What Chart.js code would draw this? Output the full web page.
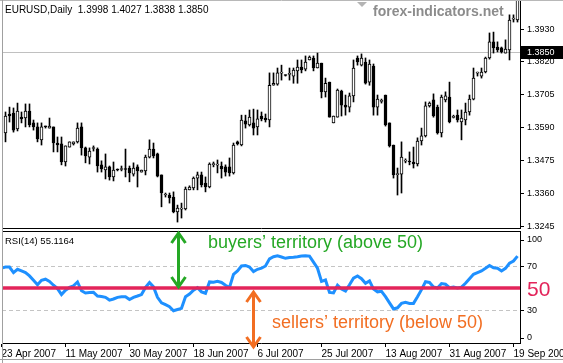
<!DOCTYPE html>
<html>
<head>
<meta charset="utf-8">
<script src="https://cdn.jsdelivr.net/npm/chart.js@4.4.1/dist/chart.umd.min.js"></script>
<style>
  html, body { margin: 0; padding: 0; background: #fff; }
  #wrap { position: relative; width: 563px; height: 363px; overflow: hidden; background: #fff; }
  canvas { position: absolute; left: 0; }
  #priceChart { top: 0; }
  #rsiChart { top: 229px; }
</style>
</head>
<body>
<div id="wrap">
  <canvas id="priceChart" width="563" height="229"></canvas>
  <canvas id="rsiChart" width="563" height="134"></canvas>
</div>
<script>
// EURUSD daily bars (index 0 = 23 Apr 2007, Sunday bars included)
const open = [null,
  1.3570, 1.3636, 1.3639, 1.3584, 1.3625, 1.3622, 1.3646, 1.3605, 1.3591, 1.3546,
  1.3593, 1.3587, 1.3591, 1.3535, 1.3532, 1.3469, 1.3521, 1.3532, 1.3539, 1.3591,
  1.3518, 1.3486, 1.3516, 1.3514, 1.3459, 1.3441, 1.3452, 1.3417, 1.3442, 1.3443,
  1.3446, 1.3448, 1.3427, 1.3452, 1.3434, 1.3438, 1.3486, 1.3514, 1.3497, 1.3424,
  1.3354, 1.3354, 1.3347, 1.3295, 1.3305, 1.3306, 1.3372, 1.3379, 1.3413, 1.3424,
  1.3396, 1.3382, 1.3460, 1.3458, 1.3455, 1.3452, 1.3452, 1.3431, 1.3539, 1.3528,
  1.3612, 1.3598, 1.3605, 1.3591, 1.3629, 1.3622, 1.3615, 1.3736, 1.3740, 1.3778,
  1.3771, 1.3774, 1.3768, 1.3786, 1.3799, 1.3792, 1.3824, 1.3831, 1.3796, 1.3813,
  1.3713, 1.3747, 1.3605, 1.3625, 1.3716, 1.3667, 1.3660, 1.3699, 1.3831, 1.3806,
  1.3817, 1.3747, 1.3803, 1.3660, 1.3680, 1.3702, 1.3605, 1.3528, 1.3425, 1.3427,
  1.3472, 1.3470, 1.3469, 1.3462, 1.3542, 1.3560, 1.3664, 1.3685, 1.3660, 1.3570,
  1.3685, 1.3695, 1.3624, 1.3632, 1.3608, 1.3615, 1.3643, 1.3688, 1.3778, 1.3768,
  1.3782, 1.3831, 1.3887, 1.3869, 1.3866, 1.3848, 1.3859, 1.3966, 1.3963];
const high = [null,
  1.3643, 1.3660, 1.3657, 1.3674, 1.3643, 1.3671, 1.3671, 1.3615, 1.3605, 1.3605,
  1.3594, 1.3622, 1.3591, 1.3556, 1.3556, 1.3525, 1.3539, 1.3539, 1.3605, 1.3605,
  1.3521, 1.3518, 1.3525, 1.3518, 1.3473, 1.3497, 1.3455, 1.3469, 1.3445, 1.3455,
  1.3514, 1.3455, 1.3466, 1.3459, 1.3441, 1.3493, 1.3546, 1.3535, 1.3500, 1.3424,
  1.3361, 1.3361, 1.3365, 1.3319, 1.3326, 1.3382, 1.3386, 1.3417, 1.3434, 1.3434,
  1.3417, 1.3466, 1.3469, 1.3476, 1.3469, 1.3459, 1.3483, 1.3535, 1.3542, 1.3632,
  1.3632, 1.3650, 1.3653, 1.3650, 1.3643, 1.3636, 1.3779, 1.3779, 1.3796, 1.3806,
  1.3772, 1.3796, 1.3796, 1.3824, 1.3824, 1.3838, 1.3838, 1.3838, 1.3848, 1.3813,
  1.3761, 1.3747, 1.3629, 1.3723, 1.3719, 1.3702, 1.3709, 1.3824, 1.3838, 1.3845,
  1.3831, 1.3824, 1.3810, 1.3702, 1.3688, 1.3702, 1.3605, 1.3528, 1.3448, 1.3539,
  1.3480, 1.3504, 1.3521, 1.3553, 1.3587, 1.3678, 1.3678, 1.3706, 1.3667, 1.3702,
  1.3713, 1.3747, 1.3632, 1.3650, 1.3650, 1.3674, 1.3702, 1.3796, 1.3782, 1.3796,
  1.3834, 1.3918, 1.3921, 1.3887, 1.3869, 1.3894, 1.3981, 1.3981, 1.4045];
const low = [null,
  1.3539, 1.3608, 1.3573, 1.3577, 1.3605, 1.3591, 1.3591, 1.3580, 1.3539, 1.3528,
  1.3587, 1.3587, 1.3504, 1.3504, 1.3459, 1.3455, 1.3521, 1.3528, 1.3535, 1.3493,
  1.3466, 1.3462, 1.3507, 1.3434, 1.3434, 1.3410, 1.3406, 1.3403, 1.3438, 1.3438,
  1.3417, 1.3400, 1.3420, 1.3382, 1.3434, 1.3424, 1.3483, 1.3483, 1.3417, 1.3313,
  1.3347, 1.3326, 1.3292, 1.3260, 1.3274, 1.3302, 1.3372, 1.3372, 1.3372, 1.3382,
  1.3365, 1.3379, 1.3452, 1.3431, 1.3413, 1.3420, 1.3420, 1.3427, 1.3528, 1.3525,
  1.3587, 1.3594, 1.3563, 1.3563, 1.3612, 1.3608, 1.3591, 1.3736, 1.3736, 1.3754,
  1.3768, 1.3754, 1.3743, 1.3743, 1.3779, 1.3786, 1.3824, 1.3786, 1.3796, 1.3692,
  1.3695, 1.3625, 1.3605, 1.3625, 1.3629, 1.3632, 1.3643, 1.3678, 1.3806, 1.3803,
  1.3740, 1.3736, 1.3632, 1.3632, 1.3674, 1.3594, 1.3521, 1.3413, 1.3354, 1.3361,
  1.3466, 1.3459, 1.3448, 1.3455, 1.3528, 1.3556, 1.3660, 1.3625, 1.3566, 1.3556,
  1.3678, 1.3605, 1.3622, 1.3608, 1.3546, 1.3598, 1.3632, 1.3685, 1.3768, 1.3761,
  1.3779, 1.3827, 1.3848, 1.3852, 1.3848, 1.3848, 1.3824, 1.3956, 1.3956];
const close = [null,
  1.3629, 1.3629, 1.3580, 1.3646, 1.3619, 1.3646, 1.3598, 1.3591, 1.3549, 1.3591,
  1.3591, 1.3594, 1.3535, 1.3528, 1.3469, 1.3525, 1.3539, 1.3539, 1.3587, 1.3518,
  1.3490, 1.3507, 1.3518, 1.3455, 1.3445, 1.3452, 1.3417, 1.3441, 1.3441, 1.3446,
  1.3443, 1.3431, 1.3448, 1.3438, 1.3441, 1.3486, 1.3514, 1.3490, 1.3420, 1.3361,
  1.3356, 1.3344, 1.3295, 1.3309, 1.3307, 1.3375, 1.3382, 1.3413, 1.3424, 1.3389,
  1.3382, 1.3462, 1.3462, 1.3460, 1.3445, 1.3434, 1.3431, 1.3528, 1.3532, 1.3615,
  1.3601, 1.3625, 1.3587, 1.3619, 1.3619, 1.3615, 1.3736, 1.3743, 1.3779, 1.3779,
  1.3770, 1.3776, 1.3789, 1.3799, 1.3789, 1.3817, 1.3834, 1.3796, 1.3813, 1.3713,
  1.3743, 1.3625, 1.3629, 1.3719, 1.3667, 1.3660, 1.3699, 1.3796, 1.3817, 1.3831,
  1.3743, 1.3810, 1.3660, 1.3688, 1.3681, 1.3598, 1.3525, 1.3424, 1.3427, 1.3486,
  1.3473, 1.3469, 1.3462, 1.3542, 1.3560, 1.3664, 1.3674, 1.3629, 1.3570, 1.3695,
  1.3699, 1.3608, 1.3625, 1.3615, 1.3622, 1.3643, 1.3688, 1.3761, 1.3779, 1.3782,
  1.3831, 1.3887, 1.3866, 1.3859, 1.3852, 1.3862, 1.3963, 1.3967, 1.4035];

// RSI(14), one value per bar
const rsi = [
  68, 69, 69, 64, 67, 65.5, 64, 61, 57, 53,
  57, 58, 56, 52.5, 49.5, 44, 48, 50.5, 52, 55.5,
  47.5, 45.5, 45.8, 46, 42.7, 42.2, 41.5, 39, 40, 41.5,
  42.1, 42.1, 39.5, 41.5, 42.7, 44, 50.5, 55, 51, 41.5,
  36.5, 34.8, 33, 29.3, 30.5, 31.5, 42, 44.5, 48, 50.3,
  46.5, 45.2, 55.5, 55.2, 56, 55, 52.5, 50.5, 62.5, 65.5,
  70, 70.5, 69, 65, 67, 68, 70, 76.5, 78.4, 79.2,
  78.2, 77, 77.7, 77.9, 78.4, 79.1, 79.4, 79, 73.5, 68,
  56, 57.3, 46, 45.5, 52.5, 49, 47.3, 53, 59, 61,
  58.5, 54.3, 56.5, 49, 46.5, 47, 42.1, 36.5, 31, 32,
  36, 37, 36, 36, 42, 48.5, 55.7, 55, 51, 50,
  54, 53.4, 50.3, 50.8, 50, 50.8, 54.3, 58.5, 62.5, 64,
  65.5, 67.9, 70.5, 68.4, 67.9, 65.5, 67.9, 72.5, 74.5, 79];

const dateTicks = ["23 Apr 2007", "11 May 2007", "30 May 2007", "18 Jun 2007", "6 Jul 2007",
  "25 Jul 2007", "13 Aug 2007", "31 Aug 2007", "19 Sep 2007"];
const tickStep = 16;
const priceTicks = [1.3245, 1.3360, 1.3475, 1.3590, 1.3705, 1.3820, 1.3930];
const rsiTicks = [100, 70, 30, 0];
const rsiLevels = [70, 30];
const rsiMid = 50;
const lastBar = [1.3998, 1.4027, 1.3838, 1.3850];
const rsiPeriod = 14;
const rsiLast = 55.1164;

Chart.defaults.font.family = "'Liberation Sans', Arial, sans-serif";
Chart.defaults.animation = false;

const FONT = "'Liberation Sans', Arial, sans-serif";
const xMin = 0.125, xMax = 129.625;
const priceMin = 1.32393, priceMax = 1.40292;
const rsiMax = 101.82;
const RSI_TOP = 229; // page offset of the rsi canvas
const RED = "#e3245a";

const bars = open.map((o, i) => i).filter(i => open[i] !== null);
const wickData = bars.map(i => ({ x: i, y: [low[i], high[i]] }));
const bodyData = bars.map(i => ({ x: i, y: [open[i], close[i]] }));
const bodyFill = bars.map(i => (close[i] >= open[i] ? "#ffffff" : "#000000"));

const priceDecor = {
  id: "priceDecor",
  beforeDatasetsDraw(chart) {
    const { ctx, chartArea: a, scales } = chart;
    const yb = Math.round(scales.y.getPixelForValue(lastBar[3])) + 0.5;
    ctx.save();
    ctx.strokeStyle = "#c0c0c0";
    ctx.lineWidth = 1;
    ctx.beginPath();
    ctx.moveTo(a.left, yb);
    ctx.lineTo(a.right, yb);
    ctx.stroke();
    ctx.restore();
  },
  afterDraw(chart) {
    const { ctx, chartArea: a, scales } = chart;
    ctx.save();
    // header
    ctx.fillStyle = "#000";
    ctx.font = "10px " + FONT;
    ctx.textBaseline = "alphabetic";
    ctx.fillText("EURUSD,Daily  " + lastBar.map(v => v.toFixed(4)).join(" "), 5, 13);
    // watermark
    ctx.fillStyle = "#8c8c8c";
    ctx.font = "bold 14px " + FONT;
    ctx.fillText("forex-indicators.net", 373, 16);
    // shift marker
    ctx.fillStyle = "#b4b4b4";
    ctx.beginPath();
    ctx.moveTo(357, 2);
    ctx.lineTo(367, 2);
    ctx.lineTo(362, 7);
    ctx.closePath();
    ctx.fill();
    // bid price box
    const yb = Math.round(scales.y.getPixelForValue(lastBar[3]));
    ctx.fillStyle = "#000";
    ctx.fillRect(521, yb - 6, 42, 13);
    ctx.fillStyle = "#fff";
    ctx.font = "9px " + FONT;
    ctx.textBaseline = "middle";
    ctx.fillText(lastBar[3].toFixed(4), 527, yb + 1);
    // frame
    ctx.lineWidth = 1;
    ctx.strokeStyle = "#000";
    ctx.beginPath();
    ctx.moveTo(a.left, 228.5);
    ctx.lineTo(a.right + 1, 228.5);
    ctx.stroke();
    ctx.strokeStyle = "#b8b8b8";
    ctx.beginPath();
    ctx.moveTo(0, 0.5);
    ctx.lineTo(563, 0.5);
    ctx.stroke();
    ctx.strokeStyle = "#a0a0a0";
    ctx.beginPath();
    ctx.moveTo(2.5, 0);
    ctx.lineTo(2.5, 229);
    ctx.stroke();
    ctx.restore();
  }
};

new Chart(document.getElementById("priceChart"), {
  type: "bar",
  data: {
    datasets: [
      { data: wickData, backgroundColor: "#000", barThickness: 1, grouped: false, order: 2 },
      {
        data: bodyData, backgroundColor: bodyFill, borderColor: "#000", borderWidth: 1,
        borderSkipped: false, barThickness: 3, minBarLength: 1, grouped: false, order: 1
      }
    ]
  },
  options: {
    responsive: false,
    events: [],
    layout: { padding: { top: 1, left: 2, right: 0, bottom: 1 }, autoPadding: false },
    plugins: { legend: { display: false }, tooltip: { enabled: false } },
    scales: {
      x: { type: "linear", display: false, min: xMin, max: xMax, offset: false },
      y: {
        position: "right",
        min: priceMin,
        max: priceMax,
        afterBuildTicks: (s) => { s.ticks = priceTicks.map(v => ({ value: v })); },
        afterFit: (s) => { s.width = 43; s.paddingTop = 0; s.paddingBottom = 0; },
        ticks: { color: "#000", font: { size: 9 }, padding: 3, callback: (v) => v.toFixed(4) },
        grid: { drawOnChartArea: false, tickLength: 4, color: "#000" },
        border: { color: "#000" }
      }
    }
  },
  plugins: [priceDecor]
});

function drawArrow(ctx, x, y1, y2, color) {
  ctx.strokeStyle = color;
  ctx.lineWidth = 3;
  ctx.lineCap = "butt";
  ctx.beginPath();
  ctx.moveTo(x, y1 + 1);
  ctx.lineTo(x, y2 - 1);
  ctx.moveTo(x - 7, y1 + 11);
  ctx.lineTo(x, y1 + 1);
  ctx.lineTo(x + 7, y1 + 11);
  ctx.moveTo(x - 7, y2 - 11);
  ctx.lineTo(x, y2 - 1);
  ctx.lineTo(x + 7, y2 - 11);
  ctx.stroke();
}

const rsiDecor = {
  id: "rsiDecor",
  beforeDatasetsDraw(chart) {
    const { ctx, chartArea: a, scales } = chart;
    ctx.save();
    ctx.strokeStyle = "#c4c4c4";
    ctx.lineWidth = 1;
    ctx.setLineDash([4, 3]);
    rsiLevels.forEach(v => {
      const y = Math.round(scales.y.getPixelForValue(v)) + 0.5;
      ctx.beginPath();
      ctx.moveTo(a.left, y);
      ctx.lineTo(a.right, y);
      ctx.stroke();
    });
    ctx.restore();
  },
  afterDatasetsDraw(chart) {
    const { ctx, chartArea: a, scales } = chart;
    const y = scales.y.getPixelForValue(rsiMid);
    ctx.save();
    ctx.strokeStyle = RED;
    ctx.lineWidth = 3.5;
    ctx.beginPath();
    ctx.moveTo(a.left, y);
    ctx.lineTo(a.right, y);
    ctx.stroke();
    ctx.restore();
  },
  afterDraw(chart) {
    const { ctx, chartArea: a, scales } = chart;
    ctx.save();
    // axis labels, kept inside the panel like the terminal does
    ctx.font = "9px " + FONT;
    ctx.fillStyle = "#000";
    ctx.strokeStyle = "#000";
    ctx.lineWidth = 1;
    ctx.textBaseline = "middle";
    rsiTicks.forEach(v => {
      let y = scales.y.getPixelForValue(v);
      y = Math.min(Math.max(y, a.top + 8.5), a.bottom - 5.5);
      ctx.beginPath();
      ctx.moveTo(a.right, Math.round(y) + 0.5);
      ctx.lineTo(a.right + 4, Math.round(y) + 0.5);
      ctx.stroke();
      ctx.fillText(String(v), 527, y + 0.5);
    });
    ctx.fillStyle = RED;
    ctx.font = "21px " + FONT;
    ctx.textBaseline = "alphabetic";
    ctx.fillText(String(rsiMid), 527, scales.y.getPixelForValue(rsiMid) + 8);
    // indicator title
    ctx.fillStyle = "#000";
    ctx.font = "9.5px " + FONT;
    ctx.fillText("RSI(" + rsiPeriod + ") " + rsiLast.toFixed(4), 5, 15);
    // frame
    ctx.strokeStyle = "#000";
    ctx.beginPath();
    ctx.moveTo(a.left, 2.5);
    ctx.lineTo(a.right + 1, 2.5);
    ctx.stroke();
    ctx.strokeStyle = "#a0a0a0";
    ctx.beginPath();
    ctx.moveTo(2.5, 0);
    ctx.lineTo(2.5, 134);
    ctx.moveTo(0, 130.5);
    ctx.lineTo(563, 130.5);
    ctx.stroke();
    // annotations (page coordinates)
    ctx.translate(0, -RSI_TOP);
    drawArrow(ctx, 178.5, 232, 288, "#25a825");
    drawArrow(ctx, 253.5, 291, 348, "#f26e22");
    ctx.font = "18px " + FONT;
    ctx.fillStyle = "#25a825";
    ctx.fillText("buyers\u2019 territory (above 50)", 208, 248);
    ctx.fillStyle = "#f26e22";
    ctx.fillText("sellers\u2019 territory (below 50)", 272, 328);
    ctx.restore();
  }
};

new Chart(document.getElementById("rsiChart"), {
  type: "line",
  data: {
    datasets: [{
      data: rsi.map((v, i) => ({ x: i, y: v })),
      borderColor: "#1e90ff",
      borderWidth: 3,
      pointRadius: 0,
      tension: 0
    }]
  },
  options: {
    responsive: false,
    events: [],
    layout: { padding: { top: 2, left: 2, right: 0, bottom: 0 }, autoPadding: false },
    plugins: { legend: { display: false }, tooltip: { enabled: false } },
    scales: {
      x: {
        type: "linear",
        min: xMin,
        max: xMax,
        offset: false,
        afterBuildTicks: (s) => { s.ticks = dateTicks.map((_, k) => ({ value: k * tickStep })); },
        afterFit: (s) => { s.height = 20; s.paddingLeft = 0; s.paddingRight = 0; },
        ticks: {
          autoSkip: false, maxRotation: 0, minRotation: 0, align: "start", padding: 1,
          color: "#000", font: { size: 10 },
          callback: (v, idx) => dateTicks[idx]
        },
        grid: { drawOnChartArea: false, tickLength: 4, color: "#000" },
        border: { color: "#000" }
      },
      y: {
        position: "right",
        min: 0,
        max: rsiMax,
        afterFit: (s) => { s.width = 43; s.paddingTop = 0; s.paddingBottom = 0; },
        ticks: { display: false },
        grid: { display: false },
        border: { color: "#000" }
      }
    }
  },
  plugins: [rsiDecor]
});
</script>
</body>
</html>
